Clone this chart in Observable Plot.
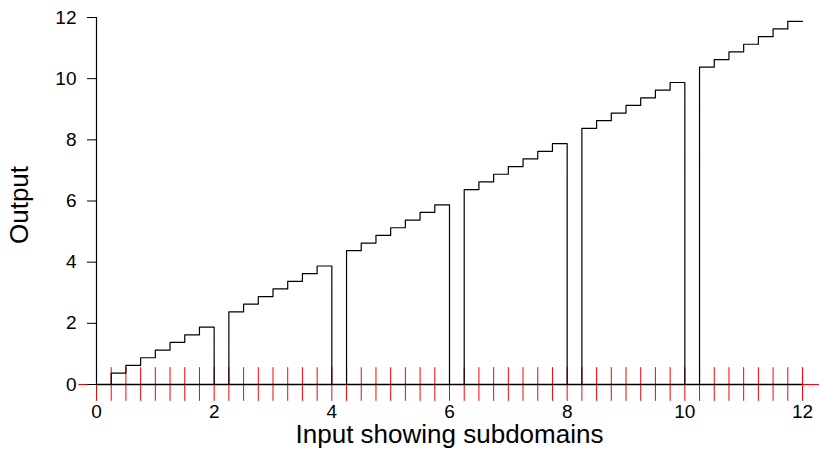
<!DOCTYPE html>
<html>
<head>
<meta charset="utf-8">
<script src="https://cdn.jsdelivr.net/npm/d3@7"></script>
<script src="https://cdn.jsdelivr.net/npm/@observablehq/plot@0.6"></script>
<style>
  html, body { margin: 0; padding: 0; background: #fff; }
  svg { font-family: "Liberation Sans", Arial, sans-serif; }
</style>
</head>
<body>
<div id="chart"></div>
<script>
// Step start positions (each step is 0.25 wide), the last entry closes the series at 12
const stepX = [
  0, 0.25, 0.5, 0.75, 1, 1.25, 1.5, 1.75,
  2, 2.25, 2.5, 2.75, 3, 3.25, 3.5, 3.75,
  4, 4.25, 4.5, 4.75, 5, 5.25, 5.5, 5.75,
  6, 6.25, 6.5, 6.75, 7, 7.25, 7.5, 7.75,
  8, 8.25, 8.5, 8.75, 9, 9.25, 9.5, 9.75,
  10, 10.25, 10.5, 10.75, 11, 11.25, 11.5, 11.75,
  12
];
// Output level held on each step (value at 12 repeats the last level)
const stepY = [
  0, 0.375, 0.625, 0.875, 1.125, 1.375, 1.625, 1.875,
  0, 2.375, 2.625, 2.875, 3.125, 3.375, 3.625, 3.875,
  0, 4.375, 4.625, 4.875, 5.125, 5.375, 5.625, 5.875,
  0, 6.375, 6.625, 6.875, 7.125, 7.375, 7.625, 7.875,
  0, 8.375, 8.625, 8.875, 9.125, 9.375, 9.625, 9.875,
  0, 10.375, 10.625, 10.875, 11.125, 11.375, 11.625, 11.875,
  11.875
];
// Red rug marks at the step breakpoints
const rugX = stepX;
const xTicks = [0, 2, 4, 6, 8, 10, 12];
const yTicks = [0, 2, 4, 6, 8, 10, 12];
const xLabel = "Input showing subdomains";
const yLabel = "Output";

const steps = stepX.map((x, i) => ({x, y: stepY[i]}));

const chart = Plot.plot({
  width: 819,
  height: 450,
  marginLeft: 96,
  marginRight: 17,
  marginTop: 17,
  marginBottom: 66,
  style: {fontFamily: "'Liberation Sans', Arial, sans-serif", fontSize: "19px", background: "#fff", overflow: "visible"},
  x: {domain: [0, 12]},
  y: {domain: [0, 12]},
  marks: [
    // red horizontal reference line
    Plot.ruleY([0], {x1: -0.3, x2: 12.3, stroke: "red", strokeWidth: 1}),
    // red rug ticks
    Plot.ruleX(rugX, {y1: -0.55, y2: 0.55, stroke: "red", strokeWidth: 1}),
    // black baseline
    Plot.ruleY([0], {x1: 0, x2: 12, stroke: "black", strokeWidth: 1.6}),
    // y axis line
    Plot.ruleX([0], {y1: 0, y2: 12, stroke: "black", strokeWidth: 1.2}),
    // step function
    Plot.line(steps, {x: "x", y: "y", curve: "step-after", stroke: "black", strokeWidth: 1.2}),
    Plot.axisY(yTicks, {tickSize: 9, tickPadding: 11, fontSize: 19, label: null, stroke: "black", color: "black"}),
    Plot.axisX(xTicks, {tickSize: 0, tickPadding: 20, fontSize: 19, label: null, color: "black"}),
    Plot.text([xLabel], {frameAnchor: "bottom", dy: 50, fontSize: 26, textAnchor: "middle", lineAnchor: "middle", fill: "black"}),
    Plot.text([yLabel], {frameAnchor: "left", dx: -77, dy: 4, rotate: -90, fontSize: 26, textAnchor: "middle", lineAnchor: "middle", fill: "black"})
  ]
});
document.getElementById("chart").appendChild(chart);
</script>
</body>
</html>
